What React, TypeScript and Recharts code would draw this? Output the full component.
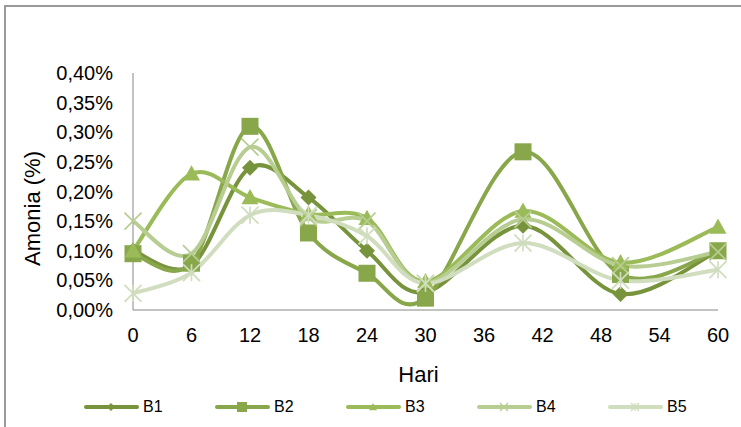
import React from "react";
import { LineChart, Line, XAxis, YAxis, Legend } from "recharts";

const days = [0, 6, 12, 18, 24, 30, 40, 50, 60];
const b1 = [0.1, 0.075, 0.24, 0.19, 0.1, 0.03, 0.142, 0.027, 0.1];
const b2 = [0.095, 0.079, 0.31, 0.13, 0.062, 0.02, 0.267, 0.06, 0.1];
const b3 = [0.1, 0.23, 0.19, 0.162, 0.155, 0.048, 0.167, 0.08, 0.14];
const b4 = [0.15, 0.095, 0.275, 0.156, 0.15, 0.045, 0.153, 0.075, 0.098];
const b5 = [0.028, 0.063, 0.16, 0.16, 0.125, 0.045, 0.113, 0.05, 0.068];
const xTicks = [0, 6, 12, 18, 24, 30, 36, 42, 48, 54, 60];
const yTicks = [0, 0.05, 0.1, 0.15, 0.2, 0.25, 0.3, 0.35, 0.4];

const series = [
  { key: "B1", color: "#77933C", shape: "diamond" },
  { key: "B2", color: "#88A64A", shape: "square" },
  { key: "B3", color: "#9BBB59", shape: "triangle" },
  { key: "B4", color: "#B7CD92", shape: "x" },
  { key: "B5", color: "#D0DDBE", shape: "star" },
];

const data = days.map((d, i) => ({
  day: d,
  B1: b1[i],
  B2: b2[i],
  B3: b3[i],
  B4: b4[i],
  B5: b5[i],
}));

const FONT = "'Liberation Sans', Arial, sans-serif";

// Excel-like smoothing (Catmull-Rom style bezier)
function excelSmooth(context: any) {
  let pts: number[][] = [];
  return {
    areaStart() {},
    areaEnd() {},
    lineStart() {
      pts = [];
    },
    lineEnd() {
      if (!pts.length) return;
      context.moveTo(pts[0][0], pts[0][1]);
      for (let i = 0; i < pts.length - 1; i++) {
        const p0 = pts[i - 1] || pts[i];
        const p1 = pts[i];
        const p2 = pts[i + 1];
        const p3 = pts[i + 2] || p2;
        context.bezierCurveTo(
          p1[0] + (p2[0] - p0[0]) / 6,
          p1[1] + (p2[1] - p0[1]) / 6,
          p2[0] - (p3[0] - p1[0]) / 6,
          p2[1] - (p3[1] - p1[1]) / 6,
          p2[0],
          p2[1]
        );
      }
    },
    point(x: number, y: number) {
      pts.push([x, y]);
    },
  };
}

function Marker({ shape, cx, cy, color, s }: any) {
  const h = s / 2;
  if (shape === "diamond")
    return <polygon points={`${cx},${cy - h} ${cx + h},${cy} ${cx},${cy + h} ${cx - h},${cy}`} fill={color} />;
  if (shape === "square")
    return <rect x={cx - h} y={cy - h} width={s} height={s} fill={color} />;
  if (shape === "triangle")
    return <polygon points={`${cx},${cy - h} ${cx + h},${cy + h * 0.8} ${cx - h},${cy + h * 0.8}`} fill={color} />;
  const sw = Math.max(1.2, s / 10);
  return (
    <g stroke={color} strokeWidth={sw}>
      <line x1={cx - h} y1={cy - h} x2={cx + h} y2={cy + h} />
      <line x1={cx - h} y1={cy + h} x2={cx + h} y2={cy - h} />
      {shape === "star" && <line x1={cx} y1={cy - h} x2={cx} y2={cy + h} />}
    </g>
  );
}

const fmt = (v: number) => v.toFixed(2).replace(".", ",") + "%";

function LegendRow() {
  return (
    <div style={{ position: "relative", height: 20, fontFamily: FONT }}>
      {series.map((s, i) => (
        <div
          key={s.key}
          style={{ position: "absolute", left: 84 + i * 131, top: 0, display: "flex", alignItems: "center" }}
        >
          <svg width={55} height={18}>
            <line x1={2} y1={9} x2={53} y2={9} stroke={s.color} strokeWidth={4} strokeLinecap="round" />
            <Marker shape={s.shape} cx={27} cy={9} color={s.color} s={s.shape === "square" ? 10 : 8} />
          </svg>
          <span style={{ fontSize: 16, marginLeft: 4, color: "#000" }}>{s.key}</span>
        </div>
      ))}
    </div>
  );
}

export default function App() {
  return (
    <div style={{ position: "absolute", left: 0, top: 0, width: 741, height: 427, background: "#fff", overflow: "hidden" }}>
      <div
        style={{
          position: "absolute",
          left: 4,
          top: 5,
          width: 760,
          height: 440,
          borderLeft: "2px solid #9a9a9a",
          borderTop: "2px solid #9a9a9a",
        }}
      />
      <LineChart
        width={741}
        height={427}
        data={data}
        margin={{ top: 73, right: 23, left: 0, bottom: 0 }}
        style={{ fontFamily: FONT }}
      >
        <XAxis
          dataKey="day"
          type="number"
          domain={[0, 60]}
          ticks={xTicks}
          tickLine={false}
          tickSize={0}
          tickMargin={18}
          axisLine={{ stroke: "#868686" }}
          tick={{ fontSize: 20, fill: "#000" }}
          height={97}
          label={{ value: "Hari", position: "center", dx: -7, dy: 16, style: { fontSize: 22, fill: "#000" } }}
        />
        <YAxis
          domain={[0, 0.4]}
          ticks={yTicks}
          tickFormatter={fmt}
          tickLine={false}
          tickSize={0}
          tickMargin={20}
          axisLine={{ stroke: "#868686" }}
          tick={{ fontSize: 20, fill: "#000" }}
          width={133}
          label={{ value: "Amonia (%)", angle: -90, position: "center", dx: -34, dy: 17, style: { fontSize: 22, fill: "#000" } }}
        />
        <Legend
          verticalAlign="bottom"
          content={() => <LegendRow />}
          wrapperStyle={{ position: "absolute", left: 0, top: 398, width: 741, bottom: "auto" }}
        />
        {series.map((s) => (
          <Line
            key={s.key}
            dataKey={s.key}
            type={excelSmooth as any}
            stroke={s.color}
            strokeWidth={4}
            isAnimationActive={false}
            dot={(p: any) => (
              <Marker
                key={`${s.key}-${p.index}`}
                shape={s.shape}
                cx={p.cx}
                cy={p.cy}
                color={s.color}
                s={s.shape === "diamond" ? 16 : 17}
              />
            )}
            activeDot={false}
          />
        ))}
      </LineChart>
    </div>
  );
}
